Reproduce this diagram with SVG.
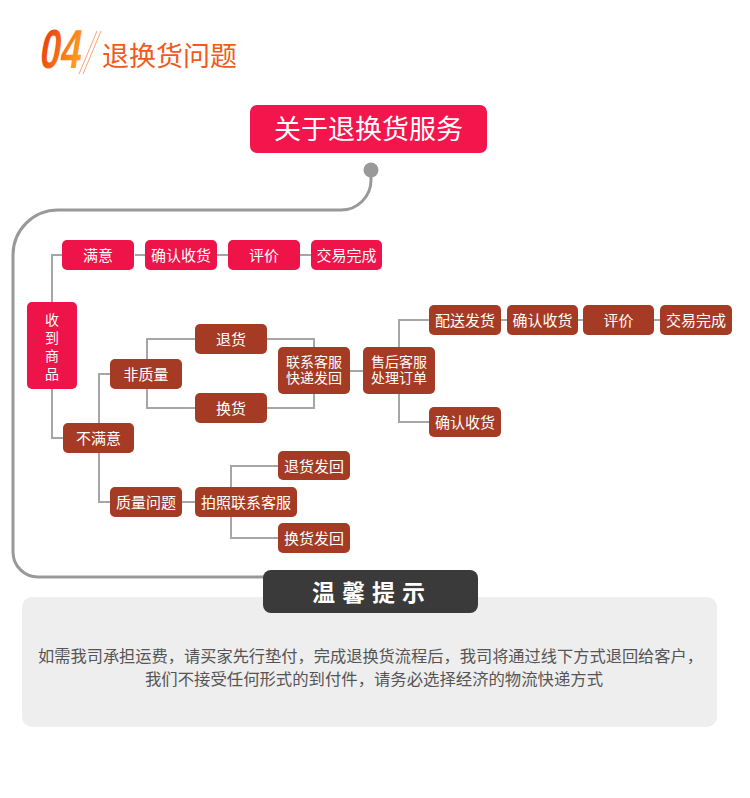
<svg xmlns="http://www.w3.org/2000/svg" width="750" height="798" viewBox="0 0 750 798">
<defs>
<linearGradient id="g04" x1="0" y1="0" x2="1" y2="0.3">
<stop offset="0" stop-color="#e8360c"/>
<stop offset="1" stop-color="#ff9a1e"/>
</linearGradient>
<style>
text{font-family:"Noto Sans CJK SC","Noto Sans",sans-serif}
.r{fill:#ee1349}
.b{fill:#a63b25}
.t{fill:#fff;font-size:15px;text-anchor:middle}
.t2{fill:#fff;font-size:14px;text-anchor:middle}
.c{fill:none;stroke:#a6a6a6;stroke-width:2}
</style>
</defs>
<rect width="750" height="798" fill="#fff"/>
<g id="heading">
<text x="38" y="68.5" font-weight="bold" font-size="55" fill="url(#g04)" textLength="41" lengthAdjust="spacingAndGlyphs" transform="translate(11,0) skewX(-9)" style="font-family:'Liberation Sans',sans-serif">04</text>
<line x1="97" y1="31" x2="79" y2="74" stroke="#f7a47a" stroke-width="1"/>
<line x1="101" y1="31" x2="83" y2="74" stroke="#f7a47a" stroke-width="1"/>
<text x="102" y="66" font-size="27" fill="#f25a1c">退换货问题</text>
</g>
<g id="border">
<path d="M371,170 L371,180 A30,30 0 0 1 341,210 L58,210 A45,45 0 0 0 13,255 L13,552 A25,25 0 0 0 38,577 L265,577" fill="none" stroke="#999" stroke-width="3"/>
<circle cx="371" cy="170" r="7.5" fill="#999"/>
</g>
<g id="connectors">
<path class="c" d="M52,302 V255 H62 M135,255 H145 M217,255 H228 M300,255 H311"/>
<path class="c" d="M52,389 V438 H63"/>
<path class="c" d="M99,423 V374 H110 M99,453 V502 H110"/>
<path class="c" d="M147,359 V339 H195 M147,389 V408 H195"/>
<path class="c" d="M267,339 H314 V347 M267,408 H314 V394"/>
<path class="c" d="M350,371 H363"/>
<path class="c" d="M399,347 V320 H429 M399,394 V422 H429"/>
<path class="c" d="M501,320 H507 M578,320 H583 M654,320 H660"/>
<path class="c" d="M182,502 H195"/>
<path class="c" d="M231,487 V466 H278 M231,517 V538 H278"/>
</g>
<g id="top">
<rect x="250" y="105" width="237" height="48" rx="7" fill="#f3154c"/>
<text x="368.5" y="139" font-size="27" fill="#fff" text-anchor="middle">关于退换货服务</text>
</g>
<g id="n-shoudao"><rect class="r" x="27" y="302" width="50" height="87" rx="5"/>
<text class="t2"><tspan x="52" y="324.5">收</tspan><tspan x="52" y="342.5">到</tspan><tspan x="52" y="360.5">商</tspan><tspan x="52" y="378.5">品</tspan></text></g>
<g id="n-manyi"><rect class="r" x="62" y="240" width="72" height="30" rx="5"/><text class="t" x="98" y="261">满意</text></g>
<g id="n-queren1"><rect class="r" x="145" y="240" width="72" height="30" rx="5"/><text class="t" x="181" y="261">确认收货</text></g>
<g id="n-pingjia1"><rect class="r" x="228" y="240" width="72" height="30" rx="5"/><text class="t" x="264" y="261">评价</text></g>
<g id="n-jiaoyi1"><rect class="r" x="311" y="240" width="71" height="30" rx="5"/><text class="t" x="346.5" y="261">交易完成</text></g>
<g id="n-buman"><rect class="b" x="63" y="423" width="71" height="30" rx="5"/><text class="t" x="98.5" y="444">不满意</text></g>
<g id="n-feizhiliang"><rect class="b" x="110" y="359" width="72" height="30" rx="5"/><text class="t" x="146" y="380">非质量</text></g>
<g id="n-tuihuo"><rect class="b" x="195" y="324" width="72" height="30" rx="5"/><text class="t" x="231" y="345">退货</text></g>
<g id="n-huanhuo"><rect class="b" x="195" y="393" width="72" height="30" rx="5"/><text class="t" x="231" y="414">换货</text></g>
<g id="n-lianxi"><rect class="b" x="278" y="347" width="72" height="47" rx="5"/><text class="t2"><tspan x="314" y="367">联系客服</tspan><tspan x="314" y="383">快递发回</tspan></text></g>
<g id="n-shouhou"><rect class="b" x="363" y="347" width="72" height="47" rx="5"/><text class="t2"><tspan x="399" y="367">售后客服</tspan><tspan x="399" y="383">处理订单</tspan></text></g>
<g id="n-peisong"><rect class="b" x="429" y="305" width="72" height="30" rx="5"/><text class="t" x="465" y="326">配送发货</text></g>
<g id="n-queren2"><rect class="b" x="507" y="305" width="71" height="30" rx="5"/><text class="t" x="542.5" y="326">确认收货</text></g>
<g id="n-pingjia2"><rect class="b" x="583" y="305" width="71" height="30" rx="5"/><text class="t" x="618.5" y="326">评价</text></g>
<g id="n-jiaoyi2"><rect class="b" x="660" y="305" width="72" height="30" rx="5"/><text class="t" x="696" y="326">交易完成</text></g>
<g id="n-queren3"><rect class="b" x="429" y="407" width="72" height="30" rx="5"/><text class="t" x="465" y="428">确认收货</text></g>
<g id="n-zhiliang"><rect class="b" x="110" y="487" width="72" height="30" rx="5"/><text class="t" x="146" y="508">质量问题</text></g>
<g id="n-paizhao"><rect class="b" x="195" y="487" width="102" height="30" rx="5"/><text class="t" x="246" y="508">拍照联系客服</text></g>
<g id="n-tuifa"><rect class="b" x="278" y="451" width="72" height="29" rx="5"/><text class="t" x="314" y="471.5">退货发回</text></g>
<g id="n-huanfa"><rect class="b" x="278" y="523" width="72" height="30" rx="5"/><text class="t" x="314" y="544">换货发回</text></g>
<g id="tips">
<rect x="22" y="597" width="695" height="130" rx="10" fill="#eeeeee"/>
<rect x="263" y="570" width="215" height="43" rx="8" fill="#3a3a3a"/>
<text x="372" y="601" font-size="23" font-weight="bold" fill="#fff" text-anchor="middle" letter-spacing="7">温馨提示</text>
<text x="370.5" y="662" font-size="16" fill="#555" text-anchor="middle" textLength="665" lengthAdjust="spacingAndGlyphs">如需我司承担运费，请买家先行垫付，完成退换货流程后，我司将通过线下方式退回给客户，</text>
<text x="374" y="685" font-size="16" fill="#555" text-anchor="middle" textLength="458" lengthAdjust="spacingAndGlyphs">我们不接受任何形式的到付件，请务必选择经济的物流快递方式</text>
</g>
</svg>
